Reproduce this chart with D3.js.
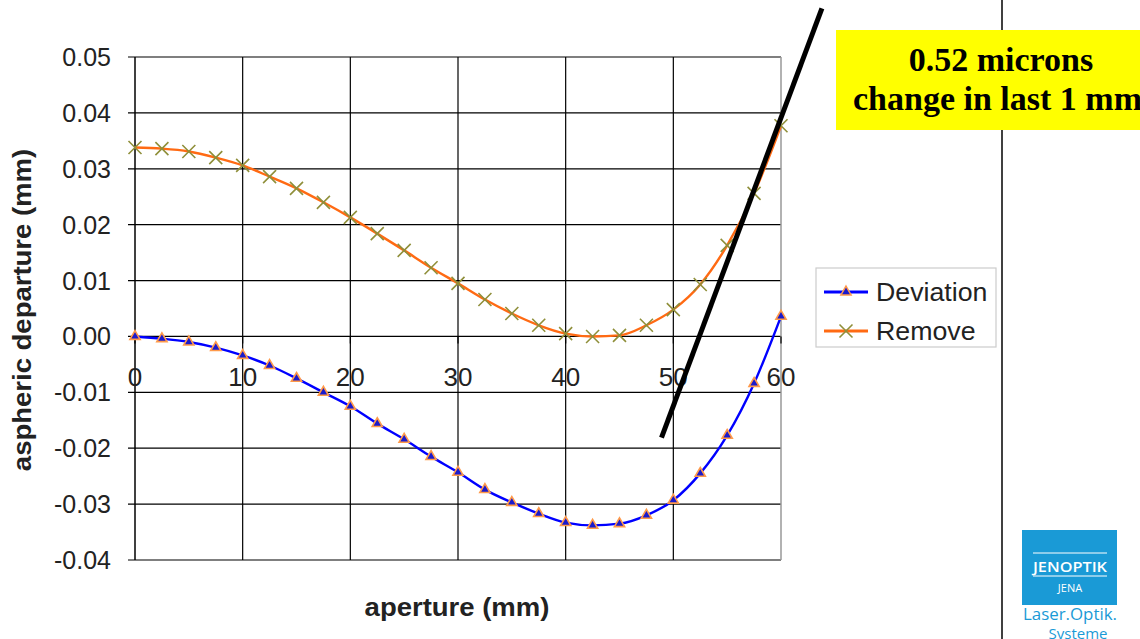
<!DOCTYPE html>
<html><head><meta charset="utf-8">
<script src="https://cdn.jsdelivr.net/npm/d3@7"></script>
<style>body{margin:0;background:#fff;}svg{display:block;}</style>
</head><body>
<svg id="c" width="1140" height="639"></svg>
<script>
const aperture = [0,2.5,5,7.5,10,12.5,15,17.5,20,22.5,25,27.5,30,32.5,35,37.5,40,42.5,45,47.5,50,52.5,55,57.5,60];
const deviation = [0,-0.0004,-0.001,-0.002,-0.0034,-0.0052,-0.0075,-0.0100,-0.0125,-0.0156,-0.0184,-0.0215,-0.0243,-0.0274,-0.0297,-0.0317,-0.0333,-0.0338,-0.0335,-0.0320,-0.0293,-0.0245,-0.0177,-0.0084,0.0036];
const remove = [0.0338,0.0336,0.0331,0.0320,0.0306,0.0286,0.0265,0.0240,0.0213,0.0184,0.0154,0.0123,0.0095,0.0066,0.0041,0.0020,0.0005,0.0000,0.0002,0.0020,0.0048,0.0093,0.0163,0.0256,0.0377];
const xTicks = [0,10,20,30,40,50,60];
const yTicks = [0.05,0.04,0.03,0.02,0.01,0,-0.01,-0.02,-0.03,-0.04];
const slopeLine = [[63.8,0.0587],[48.9,-0.0181]];
const noteLines = ["0.52 microns","change in last 1 mm"];
const seriesNames = ["Deviation","Remove"];

const svg = d3.select("#c");
const x = d3.scaleLinear().domain([0,60]).range([135,781]);
const y = d3.scaleLinear().domain([-0.04,0.05]).range([560,57]);
const sans = "Liberation Sans, Arial, sans-serif";
const fmtY = d => d3.format(".2f")(d).replace("\u2212","-");

// slide separator
svg.append("line").attr("x1",1002).attr("x2",1002).attr("y1",0).attr("y2",639).attr("stroke","#000").attr("stroke-width",1.5);

// grid
const g = svg.append("g");
g.selectAll(".hg").data(yTicks).join("line")
  .attr("x1",128).attr("x2",781).attr("y1",d=>y(d)).attr("y2",d=>y(d))
  .attr("stroke","#000").attr("stroke-width",1.2);
g.selectAll(".vg").data(xTicks.slice(1,-1)).join("line")
  .attr("x1",d=>x(d)).attr("x2",d=>x(d)).attr("y1",57).attr("y2",560)
  .attr("stroke","#000").attr("stroke-width",1.2);
g.append("line").attr("x1",x(60)).attr("x2",x(60)).attr("y1",57).attr("y2",560).attr("stroke","#999").attr("stroke-width",1.5);
g.append("line").attr("x1",x(0)).attr("x2",x(0)).attr("y1",57).attr("y2",560).attr("stroke","#000").attr("stroke-width",1.5);
g.selectAll(".xt").data(xTicks).join("line")
  .attr("x1",d=>x(d)).attr("x2",d=>x(d)).attr("y1",y(0)).attr("y2",y(0)+7)
  .attr("stroke","#000").attr("stroke-width",1.2);

// y tick labels
g.selectAll(".yl").data(yTicks).join("text")
  .attr("x",111).attr("y",d=>y(d)).attr("dy","0.36em").attr("text-anchor","end")
  .attr("font-family",sans).attr("font-size",25).attr("fill","#222")
  .text(fmtY);
// x tick labels
g.selectAll(".xl").data(xTicks).join("text")
  .attr("x",d=>x(d)).attr("y",y(0)+50).attr("text-anchor","middle")
  .attr("font-family",sans).attr("font-size",26).attr("fill","#222")
  .text(d=>d);

// axis titles
svg.append("text").attr("transform","translate(31,310) rotate(-90) scale(1.1,1)").attr("text-anchor","middle")
  .attr("font-family",sans).attr("font-size",25).attr("font-weight","bold").attr("fill","#222")
  .text("aspheric departure (mm)");
svg.append("text").attr("transform","translate(457,616) scale(1.1,1)").attr("text-anchor","middle")
  .attr("font-family",sans).attr("font-size",25).attr("font-weight","bold").attr("fill","#222")
  .text("aperture (mm)");

const line = d3.line().curve(d3.curveMonotoneX);
const devPts = aperture.map((a,i)=>[x(a),y(deviation[i])]);
const remPts = aperture.map((a,i)=>[x(a),y(remove[i])]);

svg.append("path").attr("d",line(remPts)).attr("fill","none").attr("stroke","#ff6a13").attr("stroke-width",2.4);
svg.append("path").attr("d",line(devPts)).attr("fill","none").attr("stroke","#0000ff").attr("stroke-width",2.4);

const tri = d3.symbol().type(d3.symbolTriangle).size(45);
svg.selectAll(".dm").data(devPts).join("path")
  .attr("transform",d=>`translate(${d[0]},${d[1]})`).attr("d",tri)
  .attr("fill","#1a1acc").attr("stroke","#ff9a4a").attr("stroke-width",1.6);
const xs = 6.5;
svg.selectAll(".rm").data(remPts).join("path")
  .attr("d",d=>`M${d[0]-xs},${d[1]-xs}L${d[0]+xs},${d[1]+xs}M${d[0]-xs},${d[1]+xs}L${d[0]+xs},${d[1]-xs}`)
  .attr("stroke","#8f8f3a").attr("stroke-width",1.6).attr("fill","none");

// slope annotation line
svg.append("line").attr("x1",x(slopeLine[0][0])).attr("y1",y(slopeLine[0][1]))
  .attr("x2",x(slopeLine[1][0])).attr("y2",y(slopeLine[1][1]))
  .attr("stroke","#000").attr("stroke-width",5);

// legend
const lg = svg.append("g");
lg.append("rect").attr("x",816).attr("y",268).attr("width",180).attr("height",79).attr("fill","#fff").attr("stroke","#ccc").attr("stroke-width",1.2);
lg.append("line").attr("x1",824).attr("x2",868).attr("y1",292).attr("y2",292).attr("stroke","#0000ff").attr("stroke-width",3);
lg.append("path").attr("transform","translate(846,292)").attr("d",tri).attr("fill","#1a1acc").attr("stroke","#ff9a4a").attr("stroke-width",1.5);
lg.append("line").attr("x1",824).attr("x2",868).attr("y1",331).attr("y2",331).attr("stroke","#ff6a13").attr("stroke-width",3);
lg.append("path").attr("d",`M${846-xs},${331-xs}L${846+xs},${331+xs}M${846-xs},${331+xs}L${846+xs},${331-xs}`).attr("stroke","#8f8f3a").attr("stroke-width",1.6);
lg.selectAll(".lt").data(seriesNames).join("text")
  .attr("transform",(d,i)=>`translate(876,${292+i*39}) scale(1.07,1)`).attr("dy","0.36em")
  .attr("font-family",sans).attr("font-size",25).attr("fill","#222")
  .text(d=>d);

// yellow note
svg.append("rect").attr("x",836).attr("y",30).attr("width",310).attr("height",100).attr("fill","#ffff00");
svg.append("text").attr("x",1001).attr("y",71).attr("text-anchor","middle")
  .attr("font-family","Liberation Serif, Times New Roman, serif").attr("font-weight","bold").attr("font-size",34).attr("fill","#000")
  .text(noteLines[0]);
svg.append("text").attr("x",853).attr("y",110)
  .attr("font-family","Liberation Serif, Times New Roman, serif").attr("font-weight","bold").attr("font-size",34).attr("fill","#000")
  .text(noteLines[1]);

// logo
const lo = svg.append("g");
lo.append("rect").attr("x",1022).attr("y",530).attr("width",95).attr("height",75).attr("fill","#1a9ad6");
lo.append("line").attr("x1",1033).attr("x2",1107).attr("y1",553).attr("y2",553).attr("stroke","#fff").attr("stroke-width",1);
lo.append("line").attr("x1",1033).attr("x2",1107).attr("y1",576).attr("y2",576).attr("stroke","#fff").attr("stroke-width",1);
lo.append("text").attr("x",1070).attr("y",572).attr("text-anchor","middle").attr("font-family","Open Sans, sans-serif").attr("font-size",15).attr("font-weight","600").attr("fill","#fff").attr("textLength",74).attr("lengthAdjust","spacingAndGlyphs").text("JENOPTIK");
lo.append("text").attr("x",1070).attr("y",592).attr("text-anchor","middle").attr("font-family","Open Sans, sans-serif").attr("font-size",11).attr("fill","#fff").text("JENA");
lo.append("text").attr("x",1070).attr("y",620).attr("text-anchor","middle").attr("font-family","Open Sans, sans-serif").attr("font-size",16).attr("fill","#1a9ad6").attr("textLength",94).attr("lengthAdjust","spacingAndGlyphs").text("Laser.Optik.");
lo.append("text").attr("x",1078).attr("y",639).attr("text-anchor","middle").attr("font-family","Open Sans, sans-serif").attr("font-size",15).attr("fill","#1a9ad6").text("Systeme");
</script>
</body></html>
